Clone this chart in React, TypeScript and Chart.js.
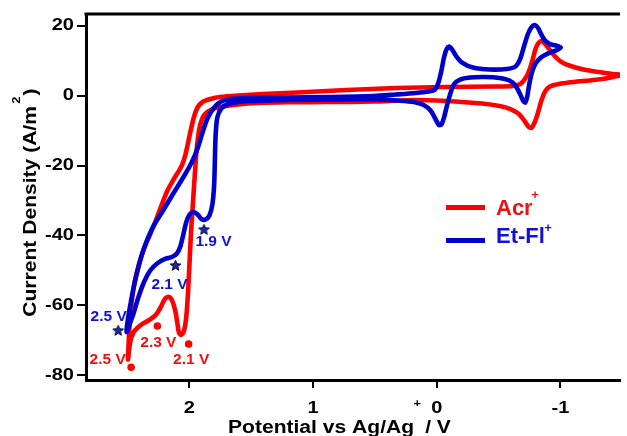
import { useEffect, useRef } from 'react';
import { Chart, registerables } from 'chart.js';

Chart.register(...registerables);

// Acr+ cyclic voltammogram: potential (V vs Ag/Ag+) and current density (A/m²)
const acrPotential = [
  -1.5, -1.386, -1.267, -1.107, -0.987, -0.915, -0.876, -0.844, -0.816, -0.788,
  -0.764, -0.74, -0.708, -0.66, -0.596, -0.508, -0.365, -0.149, 0.17, 0.513,
  0.888, 1.208, 1.447, 1.607, 1.726, 1.822, 1.878, 1.914, 1.938, 1.954,
  1.97, 1.986, 1.998, 2.01, 2.022, 2.034, 2.049, 2.069, 2.085, 2.097,
  2.113, 2.133, 2.153, 2.177, 2.201, 2.233, 2.269, 2.317, 2.373, 2.421,
  2.452, 2.476, 2.488, 2.496, 2.492, 2.484, 2.468, 2.445, 2.413, 2.373,
  2.325, 2.277, 2.229, 2.181, 2.133, 2.093, 2.061, 2.034, 2.01, 1.986,
  1.962, 1.934, 1.894, 1.83, 1.75, 1.607, 1.407, 1.128, 0.729, 0.33,
  -0.069, -0.468, -0.612, -0.676, -0.716, -0.748, -0.776, -0.8, -0.822, -0.846,
  -0.87, -0.903, -0.947, -1.003, -1.083, -1.187, -1.306, -1.41, -1.5,
];
const acrCurrent = [
  5.9, 5.0, 4.43, 3.86, 3.29, 2.57, 1.14, -1.71, -5.29, -8.0,
  -9.29, -8.86, -7.14, -5.14, -3.86, -3.0, -2.29, -1.71, -1.29, -1.71,
  -1.86, -1.91, -2.14, -2.57, -3.14, -4.0, -5.43, -8.57, -14.29, -21.43,
  -30.0, -38.57, -47.14, -55.71, -62.0, -65.71, -67.71, -68.43, -67.71, -65.14,
  -61.71, -59.14, -57.86, -57.57, -58.29, -60.57, -62.57, -64.0, -65.14, -66.43,
  -67.71, -70.0, -72.86, -75.43, -71.43, -65.71, -59.43, -53.71, -48.86, -44.29,
  -40.29, -36.29, -31.71, -27.43, -24.29, -22.0, -20.0, -17.14, -13.43, -9.43,
  -6.0, -3.43, -1.86, -1.0, -0.43, 0.0, 0.43, 0.86, 1.57, 2.14,
  2.43, 2.57, 2.71, 3.29, 4.86, 7.14, 10.29, 13.43, 15.0, 15.57,
  15.0, 13.57, 11.57, 9.71, 8.43, 7.43, 6.71, 6.23, 5.9,
];

// Et-Fl+ cyclic voltammogram
const etflPotential = [
  0.513, 0.33, 0.186, 0.106, 0.05, 0.01, -0.018, -0.038, -0.061, -0.085,
  -0.113, -0.141, -0.189, -0.269, -0.389, -0.508, -0.588, -0.636, -0.672, -0.7,
  -0.716, -0.732, -0.748, -0.772, -0.804, -0.852, -0.915, -0.971, -1.003, -0.963,
  -0.915, -0.876, -0.844, -0.82, -0.792, -0.764, -0.736, -0.708, -0.676, -0.636,
  -0.564, -0.429, -0.293, -0.205, -0.157, -0.125, -0.101, -0.077, -0.057, -0.038,
  -0.014, 0.014, 0.066, 0.17, 0.33, 0.513, 0.888, 1.208, 1.527, 1.67,
  1.75, 1.806, 1.854, 1.894, 1.934, 1.982, 2.045, 2.125, 2.213, 2.301,
  2.373, 2.429, 2.468, 2.496, 2.508, 2.484, 2.452, 2.413, 2.365, 2.317,
  2.261, 2.197, 2.141, 2.101, 2.073, 2.049, 2.026, 1.998, 1.966, 1.934,
  1.902, 1.87, 1.838, 1.814, 1.8, 1.794, 1.788, 1.774, 1.742, 1.686,
  1.567, 1.208, 0.808, 0.513,
];
const etflCurrent = [
  -1.0, -1.43, -1.86, -2.71, -4.29, -6.71, -8.43, -8.29, -6.0, -2.57,
  0.86, 3.29, 4.57, 5.14, 5.29, 5.0, 4.29, 2.86, 0.57, -1.57,
  -2.0, -0.29, 3.14, 6.86, 9.43, 11.14, 12.29, 13.0, 13.71, 14.29,
  14.71, 15.71, 17.57, 19.29, 20.14, 19.43, 17.43, 14.29, 10.57, 8.29,
  7.57, 7.43, 8.0, 9.43, 11.29, 13.14, 14.0, 13.0, 10.57, 7.14,
  3.71, 1.71, 1.14, 0.71, 0.29, -0.14, -0.43, -0.57, -0.71, -1.0,
  -1.86, -3.71, -6.57, -10.57, -15.14, -19.14, -23.14, -27.71, -32.86, -38.0,
  -44.29, -51.43, -58.0, -63.71, -67.57, -65.43, -62.29, -57.71, -53.14, -50.0,
  -48.0, -46.71, -46.14, -45.14, -43.14, -39.71, -36.29, -34.0, -33.29, -34.0,
  -35.29, -35.43, -34.29, -31.14, -25.71, -18.57, -11.43, -6.29, -3.71, -2.43,
  -1.71, -1.29, -1.14, -1.0,
];

// Marked reduction features
const acrMarkPotential = [2.259, 2.006, 2.471];
const acrMarkCurrent = [-65.86, -71.0, -77.66];
const acrMarkLabels = ['2.3 V', '2.1 V', '2.5 V'];

const etflMarkPotential = [1.882, 2.112, 2.576];
const etflMarkCurrent = [-38.29, -48.57, -67.14];
const etflMarkLabels = ['1.9 V', '2.1 V', '2.5 V'];

const xTickValues = [2, 1, 0, -1];
const yTickValues = [20, 0, -20, -40, -60, -80];
const seriesNames = ['Acr', 'Et-Fl'];

const RED = '#ff0000';
const BLUE = '#0000cc';
const RED_TEXT = '#ee1111';
const BLUE_TEXT = '#1111dd';
const FAMILY = '"Liberation Sans", Arial, Helvetica, sans-serif';

// label offsets (px) from each marker
const acrLabelOffsets = [[1, 16.3], [2.5, 16], [-23.5, -7.7]];
const etflLabelOffsets = [[9.5, 12.5], [-6, 19], [-9.5, -14]];

function pairs(xs: number[], ys: number[]) {
  return xs.map((x, i) => ({ x, y: ys[i] }));
}

function makeStar(): HTMLCanvasElement {
  const c = document.createElement('canvas');
  c.width = 13;
  c.height = 13;
  const g = c.getContext('2d')!;
  g.beginPath();
  for (let i = 0; i < 10; i++) {
    const r = i % 2 === 0 ? 5.6 : 2.4;
    const a = -Math.PI / 2 + (i * Math.PI) / 5;
    const px = 6.5 + r * Math.cos(a);
    const py = 6.8 + r * Math.sin(a);
    if (i === 0) g.moveTo(px, py);
    else g.lineTo(px, py);
  }
  g.closePath();
  g.fillStyle = '#1c2ab0';
  g.fill();
  g.strokeStyle = '#000033';
  g.lineWidth = 1;
  g.stroke();
  return c;
}

function drawText(
  ctx: CanvasRenderingContext2D,
  text: string,
  x: number,
  y: number,
  font: string,
  color: string,
  align: CanvasTextAlign,
  baseline: CanvasTextBaseline,
  sx = 1,
) {
  ctx.save();
  ctx.translate(x, y);
  ctx.scale(sx, 1);
  ctx.font = font;
  ctx.fillStyle = color;
  ctx.textAlign = align;
  ctx.textBaseline = baseline;
  ctx.fillText(text, 0, 0);
  ctx.restore();
}

const decorations = {
  id: 'cvDecorations',
  afterDraw(chart: any) {
    const ctx: CanvasRenderingContext2D = chart.ctx;
    const { x: xs, y: ys } = chart.scales;
    const area = chart.chartArea;
    const tickFont = `bold 17px ${FAMILY}`;
    const titleFont = `bold 18px ${FAMILY}`;
    const stretch = 1.17;

    ctx.save();
    // top frame line
    ctx.strokeStyle = '#000';
    ctx.lineWidth = 3;
    ctx.beginPath();
    ctx.moveTo(area.left - 1.5, area.top);
    ctx.lineTo(area.right, area.top);
    ctx.stroke();

    // tick labels
    yTickValues.forEach((v) => {
      drawText(ctx, String(v), area.left - 12, ys.getPixelForValue(v), tickFont, '#000', 'right', 'middle', 1.18);
    });
    xTickValues.forEach((v) => {
      drawText(ctx, String(v), xs.getPixelForValue(v), area.bottom + 33, tickFont, '#000', 'center', 'alphabetic', 1.18);
    });

    // x-axis title
    ctx.save();
    ctx.translate(228, 432.5);
    ctx.scale(stretch, 1);
    ctx.fillStyle = '#000';
    ctx.font = titleFont;
    ctx.textAlign = 'left';
    ctx.textBaseline = 'alphabetic';
    const xMain = 'Potential vs Ag/Ag';
    ctx.fillText(xMain, 0, 0);
    const xw = ctx.measureText(xMain).width;
    ctx.font = `bold 11px ${FAMILY}`;
    ctx.textAlign = 'center';
    ctx.textBaseline = 'middle';
    ctx.fillText('+', xw + 2.8, -29);
    ctx.font = titleFont;
    ctx.textAlign = 'left';
    ctx.textBaseline = 'alphabetic';
    ctx.fillText(' / V', xw + 4.5, 0);
    ctx.restore();

    // y-axis title
    ctx.save();
    ctx.translate(36, 316.7);
    ctx.rotate(-Math.PI / 2);
    ctx.scale(stretch, 1);
    ctx.fillStyle = '#000';
    ctx.font = titleFont;
    ctx.textAlign = 'left';
    ctx.textBaseline = 'alphabetic';
    const yMain = 'Current Density (A/m';
    ctx.fillText(yMain, 0, 0);
    const yw = ctx.measureText(yMain).width;
    ctx.font = `bold 11px ${FAMILY}`;
    ctx.textAlign = 'center';
    ctx.textBaseline = 'middle';
    ctx.fillText('2', yw + 5, -19.5);
    ctx.font = titleFont;
    ctx.textAlign = 'left';
    ctx.textBaseline = 'alphabetic';
    ctx.fillText(')', yw + 9, 0);
    ctx.restore();

    // legend
    const legendRows = [
      { name: seriesNames[0], color: RED, text: RED_TEXT, lineY: 207.5, base: 215, supX: 535, supY: 195.5 },
      { name: seriesNames[1], color: BLUE, text: BLUE_TEXT, lineY: 240.5, base: 243, supX: 548, supY: 228.5 },
    ];
    legendRows.forEach((r) => {
      ctx.strokeStyle = r.color;
      ctx.lineWidth = 5;
      ctx.lineCap = 'butt';
      ctx.beginPath();
      ctx.moveTo(446, r.lineY);
      ctx.lineTo(485, r.lineY);
      ctx.stroke();
      drawText(ctx, r.name, 496, r.base, `bold 22px ${FAMILY}`, r.text, 'left', 'alphabetic');
      drawText(ctx, '+', r.supX, r.supY, `bold 13px ${FAMILY}`, r.text, 'center', 'middle');
    });

    // potential labels next to the marked features
    const labelFont = `bold 15.5px ${FAMILY}`;
    acrMarkLabels.forEach((t, i) => {
      const px = xs.getPixelForValue(acrMarkPotential[i]) + acrLabelOffsets[i][0];
      const py = ys.getPixelForValue(acrMarkCurrent[i]) + acrLabelOffsets[i][1];
      drawText(ctx, t, px, py, labelFont, RED_TEXT, 'center', 'middle');
    });
    etflMarkLabels.forEach((t, i) => {
      const px = xs.getPixelForValue(etflMarkPotential[i]) + etflLabelOffsets[i][0];
      const py = ys.getPixelForValue(etflMarkCurrent[i]) + etflLabelOffsets[i][1];
      drawText(ctx, t, px, py, labelFont, BLUE_TEXT, 'center', 'middle');
    });
    ctx.restore();
  },
};

export default function App() {
  const canvasRef = useRef<HTMLCanvasElement | null>(null);

  useEffect(() => {
    const canvas = canvasRef.current;
    if (!canvas) return;
    const star = makeStar();

    const chart = new Chart(canvas, {
      type: 'scatter',
      data: {
        datasets: [
          {
            label: 'Et-Fl+ marks',
            data: pairs(etflMarkPotential, etflMarkCurrent),
            showLine: false,
            pointStyle: star as any,
            pointRadius: 6,
            order: 0,
          },
          {
            label: 'Acr+ marks',
            data: pairs(acrMarkPotential, acrMarkCurrent),
            showLine: false,
            pointStyle: 'circle',
            pointRadius: 3.8,
            backgroundColor: RED,
            borderWidth: 0,
            order: 0,
          },
          {
            label: 'Et-Fl+',
            data: pairs(etflPotential, etflCurrent),
            showLine: true,
            borderColor: BLUE,
            borderWidth: 4.6,
            pointRadius: 0,
            tension: 0.25,
            borderJoinStyle: 'round',
            borderCapStyle: 'round',
            fill: false,
            order: 1,
          },
          {
            label: 'Acr+',
            data: pairs(acrPotential, acrCurrent),
            showLine: true,
            borderColor: RED,
            borderWidth: 4.6,
            pointRadius: 0,
            tension: 0.25,
            borderJoinStyle: 'round',
            borderCapStyle: 'round',
            fill: false,
            order: 2,
          },
        ],
      },
      options: {
        responsive: false,
        animation: false,
        devicePixelRatio: 1,
        events: [],
        layout: { padding: { top: 14, left: 0, right: 0, bottom: 0 } },
        plugins: { legend: { display: false }, tooltip: { enabled: false } },
        scales: {
          x: {
            type: 'linear',
            reverse: true,
            min: -1.482,
            max: 2.836,
            afterBuildTicks: (s: any) => {
              s.ticks = xTickValues.map((v) => ({ value: v }));
            },
            afterFit: (s: any) => {
              s.height = 56;
            },
            ticks: { display: false },
            grid: { display: true, drawOnChartArea: false, drawTicks: true, tickLength: 8, color: '#000', lineWidth: 2 },
            border: { display: true, color: '#000', width: 3 },
          },
          y: {
            type: 'linear',
            min: -81.3,
            max: 23.3,
            afterBuildTicks: (s: any) => {
              s.ticks = yTickValues.map((v) => ({ value: v }));
            },
            afterFit: (s: any) => {
              s.width = 86;
            },
            ticks: { display: false },
            grid: { display: true, drawOnChartArea: false, drawTicks: true, tickLength: 9, color: '#000', lineWidth: 2 },
            border: { display: true, color: '#000', width: 3 },
          },
        },
      },
      plugins: [decorations],
    } as any);

    return () => chart.destroy();
  }, []);

  return (
    <div style={{ position: 'absolute', left: 0, top: 0, width: 627, height: 436, background: '#fff' }}>
      <canvas ref={canvasRef} width={627} height={436} style={{ display: 'block' }} />
    </div>
  );
}
